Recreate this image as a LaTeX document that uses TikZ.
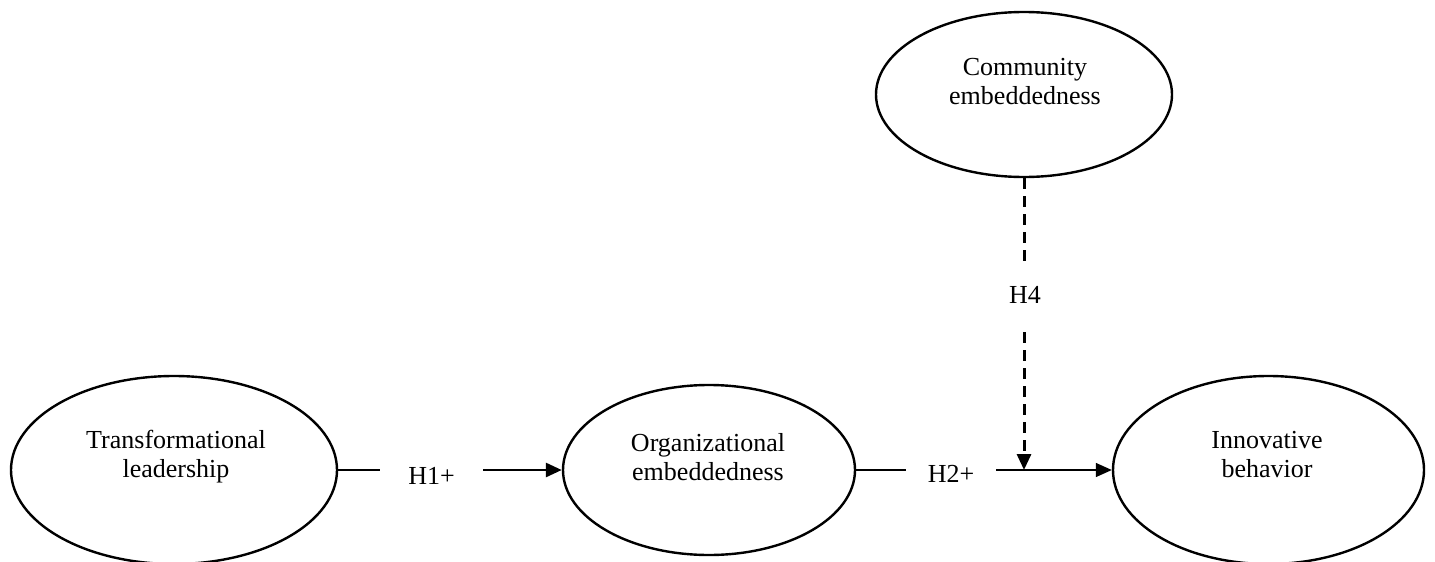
\documentclass[tikz,border=0pt]{standalone}
\usepackage{fontspec}
\setmainfont{Liberation Serif}
\usetikzlibrary{shapes.geometric,arrows.meta}
\begin{document}
\begin{tikzpicture}[x=1pt,y=-1pt,
  constr/.style={draw, ellipse, line width=2.4pt, inner sep=0pt},
  lbl/.style={font=\fontsize{26}{29}\selectfont, align=center, inner sep=0pt},
  hyp/.style={font=\fontsize{26}{29}\selectfont, inner ysep=0pt},
  thickpath/.style={line width=2.8pt},
  thinpath/.style={line width=1.4pt},
  dashpath/.style={line width=3pt, dash pattern=on 11pt off 7pt},
  tip/.style={-{Triangle[length=16pt,width=14pt]}}
]
\useasboundingbox (0,0) rectangle (1435,562);

% constructs
\node[constr, minimum width=326pt, minimum height=188pt] (tl) at (174,470) {};
\node[lbl] (tlt) at (176,456.7) {\strut Transformational\\\strut leadership};

\node[constr, minimum width=292pt, minimum height=170pt] (oe) at (709,470) {};
\node[lbl] (oet) at (708,459.7) {\strut Organizational\\\strut embeddedness};

\node[constr, minimum width=311pt, minimum height=188pt] (ib) at (1268.5,470) {};
\node[lbl] (ibt) at (1267,456.7) {\strut Innovative\\\strut behavior};

\node[constr, minimum width=296pt, minimum height=165pt] (ce) at (1024,94.5) {};
\node[lbl] (cet) at (1025,83.7) {\strut Community\\\strut embeddedness};

% hypothesis labels
\node[hyp, inner xsep=28.5pt] (h1) at (431.5,475.5) {H1+};
\node[hyp, inner xsep=21.8pt] (h2) at (951,473.5) {H2+};
\node[font=\fontsize{26}{29}\selectfont, inner xsep=0pt, inner ysep=18.8pt,
      text depth=10.2pt, anchor=base] (h4) at (1025,303) {H4};

\coordinate (j) at (ce.south |- ib.west);

% connectors
\draw[thickpath] (tl.east) -- (tl.east -| h1.west);
\draw[thickpath, tip] (h1.east |- oe.west) -- (oe.west);

\draw[thinpath] (oe.east) -- (oe.east -| h2.west);
\draw[thinpath, tip] (h2.east |- ib.west) -- (ib.west);

\draw[dashpath] (ce.south) -- (ce.south |- h4.north);
\draw[dashpath, tip] (ce.south |- h4.south) -- (j);
\end{tikzpicture}
\end{document}
